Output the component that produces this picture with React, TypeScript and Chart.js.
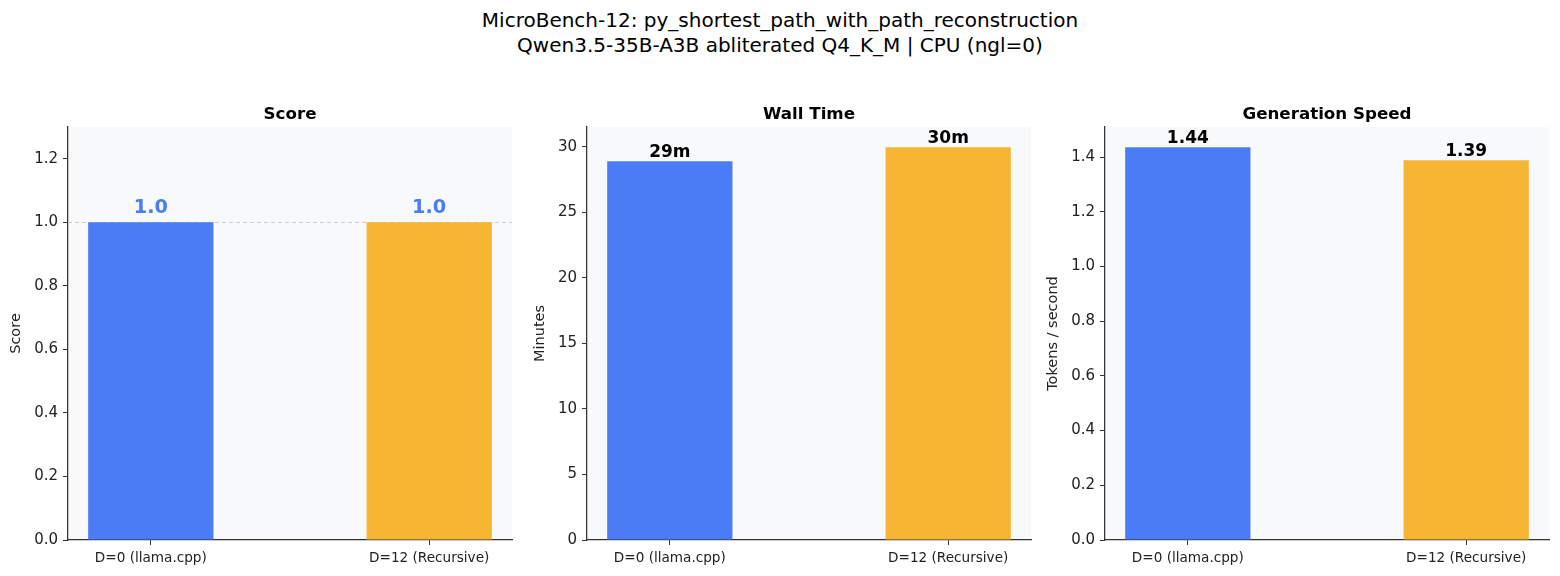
import React, { useEffect, useRef } from 'react';
import { Chart, registerables } from 'chart.js';

Chart.register(...registerables);

const FONT = '"DejaVu Sans", Verdana, sans-serif';
const INK = '#222222';
const SPINE = '#333333';
const PLOT_BG = '#f8f9fa';

// data
const categories = ['D=0 (llama.cpp)', 'D=12 (Recursive)'];
const barColors = ['#4a7cf6', '#f6b532'];

const scores = [1.0, 1.0];
const wallMinutes = [28.88, 29.95];
const tokensPerSecond = [1.436, 1.388];

const scoreTicks = [0, 0.2, 0.4, 0.6, 0.8, 1.0, 1.2];
const minuteTicks = [0, 5, 10, 15, 20, 25, 30];
const speedTicks = [0, 0.2, 0.4, 0.6, 0.8, 1.0, 1.2, 1.4];

const suptitle = [
  'MicroBench-12: py_shortest_path_with_path_reconstruction',
  'Qwen3.5-35B-A3B abliterated Q4_K_M | CPU (ngl=0)',
];

interface PanelProps {
  left: number;
  title: string;
  yLabel: string;
  yLabelPad: number;
  values: number[];
  yTicks: number[];
  yMax: number;
  tickFmt: (v: number) => string;
  labelFmt: (v: number) => string;
  labelColor: string;
  labelSize: number;
  labelGap: number;
  refLine?: number;
}

const Panel: React.FC<PanelProps> = (p) => {
  const canvasRef = useRef<HTMLCanvasElement>(null);

  useEffect(() => {
    if (!canvasRef.current) return;

    const decor = {
      id: 'decor',
      beforeDraw(chart: any) {
        const { ctx, chartArea } = chart;
        ctx.save();
        ctx.fillStyle = PLOT_BG;
        ctx.fillRect(chartArea.left, chartArea.top, chartArea.right - chartArea.left, chartArea.bottom - chartArea.top);
        ctx.restore();
      },
      beforeDatasetsDraw(chart: any) {
        if (p.refLine === undefined) return;
        const { ctx, chartArea, scales } = chart;
        const y = Math.round(scales.y.getPixelForValue(p.refLine)) + 0.5;
        ctx.save();
        ctx.strokeStyle = '#cccccc';
        ctx.lineWidth = 1;
        ctx.setLineDash([4, 3]);
        ctx.beginPath();
        ctx.moveTo(chartArea.left, y);
        ctx.lineTo(chartArea.right, y);
        ctx.stroke();
        ctx.restore();
      },
      afterDatasetsDraw(chart: any) {
        const { ctx, chartArea } = chart;
        ctx.save();
        ctx.textAlign = 'center';
        ctx.textBaseline = 'alphabetic';
        // subplot title
        ctx.fillStyle = '#000000';
        ctx.font = `bold 16.7px ${FONT}`;
        ctx.fillText(p.title, (chartArea.left + chartArea.right) / 2, chartArea.top - 8);
        // value labels
        ctx.fillStyle = p.labelColor;
        ctx.font = `bold ${p.labelSize}px ${FONT}`;
        const meta = chart.getDatasetMeta(0);
        meta.data.forEach((bar: any, i: number) => {
          ctx.fillText(p.labelFmt(p.values[i]), bar.x, bar.y - p.labelGap);
        });
        ctx.restore();
      },
    };

    const chart = new Chart(canvasRef.current, {
      type: 'bar',
      data: {
        datasets: [
          {
            data: p.values.map((v, i) => ({ x: i, y: v })),
            backgroundColor: barColors,
            borderWidth: 0,
            barPercentage: 0.45,
            categoryPercentage: 1,
          },
        ],
      },
      options: {
        responsive: false,
        animation: false,
        events: [],
        layout: { padding: { top: 37, right: 6, left: 0, bottom: 0 } },
        plugins: {
          legend: { display: false },
          tooltip: { enabled: false },
          title: { display: false },
        },
        scales: {
          x: {
            type: 'linear',
            offset: false,
            min: -0.2975,
            max: 1.2975,
            afterBuildTicks: (s: any) => {
              s.ticks = categories.map((_, i) => ({ value: i }));
            },
            afterFit: (s: any) => {
              s.height = 36;
            },
            ticks: {
              callback: (v: any) => categories[v] ?? '',
              font: { family: FONT, size: 13.6 },
              color: INK,
              padding: 5,
              maxRotation: 0,
              autoSkip: false,
            },
            grid: { drawOnChartArea: false, tickLength: 5, color: SPINE, offset: false },
            border: { color: SPINE, width: 1.25 },
          },
          y: {
            type: 'linear',
            min: 0,
            max: p.yMax,
            afterBuildTicks: (s: any) => {
              s.ticks = p.yTicks.map((v) => ({ value: v }));
            },
            afterFit: (s: any) => {
              s.width = 68;
            },
            ticks: {
              callback: (v: any) => p.tickFmt(Number(v)),
              font: { family: FONT, size: 15 },
              color: INK,
              padding: 5,
            },
            grid: { drawOnChartArea: false, tickLength: 5, color: SPINE },
            border: { color: SPINE, width: 1.25 },
            title: {
              display: true,
              text: p.yLabel,
              font: { family: FONT, size: 14.5 },
              color: INK,
              padding: { top: p.yLabelPad, bottom: 0 },
            },
          },
        },
      },
      plugins: [decor],
    } as any);

    return () => {
      chart.destroy();
    };
  }, []);

  return (
    <canvas
      ref={canvasRef}
      width={518}
      height={486}
      style={{ position: 'absolute', left: p.left, top: 90, width: 518, height: 486 }}
    />
  );
};

const App: React.FC = () => {
  return (
    <div
      style={{
        position: 'absolute',
        left: 0,
        top: 0,
        width: 1560,
        height: 576,
        background: '#ffffff',
        overflow: 'hidden',
        fontFamily: FONT,
      }}
    >
      <div
        style={{
          position: 'absolute',
          left: 0,
          top: 8,
          width: 1560,
          textAlign: 'center',
          fontSize: 20,
          lineHeight: '25px',
          color: '#000000',
        }}
      >
        {suptitle.map((line) => (
          <div key={line}>{line}</div>
        ))}
      </div>
      <Panel
        left={0}
        title="Score"
        yLabel="Score"
        yLabelPad={8}
        values={scores}
        yTicks={scoreTicks}
        yMax={1.3}
        tickFmt={(v) => v.toFixed(1)}
        labelFmt={(v) => v.toFixed(1)}
        labelColor="#4a7cf6"
        labelSize={19.3}
        labelGap={9.5}
        refLine={1.0}
      />
      <Panel
        left={519}
        title="Wall Time"
        yLabel="Minutes"
        yLabelPad={13}
        values={wallMinutes}
        yTicks={minuteTicks}
        yMax={31.5}
        tickFmt={(v) => String(Math.round(v))}
        labelFmt={(v) => `${Math.round(v)}m`}
        labelColor="#000000"
        labelSize={17}
        labelGap={4}
      />
      <Panel
        left={1037}
        title="Generation Speed"
        yLabel="Tokens / second"
        yLabelPad={7.5}
        values={tokensPerSecond}
        yTicks={speedTicks}
        yMax={1.51}
        tickFmt={(v) => v.toFixed(1)}
        labelFmt={(v) => v.toFixed(2)}
        labelColor="#000000"
        labelSize={17}
        labelGap={4}
      />
    </div>
  );
};

export default App;
